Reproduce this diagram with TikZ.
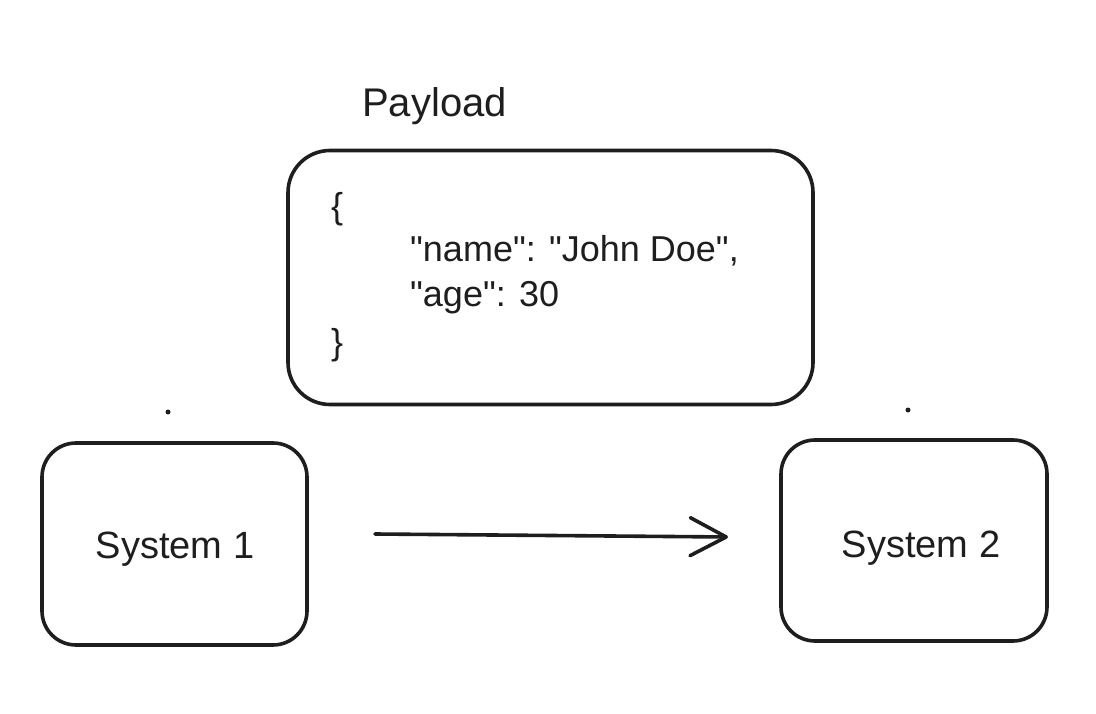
\documentclass[tikz,border=0pt]{standalone}
\usepackage{fontspec}
\setmainfont{Liberation Sans}
\newfontfamily\codefont{Liberation Sans}
\usetikzlibrary{arrows.meta}
\definecolor{ink}{HTML}{1E1E1E}
\tikzset{
  sketchbox/.style={draw=ink, line width=3.6pt, rounded corners=#1, inner sep=0pt},
  label/.style={text=ink, font=\fontsize{38}{45}\selectfont, inner sep=0pt},
  code/.style={text=ink, font=\codefont\fontsize{36}{45}\selectfont, inner sep=0pt, anchor=base west},
  dotmark/.style={circle, fill=ink, inner sep=0pt, minimum size=5pt},
}
\begin{document}
\begin{tikzpicture}[x=1pt,y=-1pt]
\useasboundingbox (0,0) rectangle (1096,714);
% payload
\node[label, font=\fontsize{40}{45}\selectfont, anchor=base west] (title) at (362,117) {Payload};
\node[sketchbox=42pt, minimum width=525pt, minimum height=254pt] (payload) at (550.5,277.5) {};
\node[code] (j1) at (331,219) {\{};
\node[code] (j2) at (410,262) {"name": "John Doe",};
\node[code] (j3) at (410,307) {"age": 30};
\node[code] (j4) at (331,355) {\}};
% systems
\node[sketchbox=34pt, minimum width=265pt, minimum height=202pt] (s1) at (174.5,544) {};
\node[sketchbox=34pt, minimum width=266pt, minimum height=201pt] (s2) at (914,540.5) {};
\node[label, anchor=base] (t1) at (175,558) {System 1};
\node[label, anchor=base] (t2) at (921,557) {System 2};
% dots
\node[dotmark] (d1) at (168,412) {};
\node[dotmark] (d2) at (908,410) {};
% arrow
\coordinate (a1) at (375,534);
\coordinate (a2) at (728,537);
\draw[draw=ink, line width=3.6pt, line cap=round, -{Straight Barb[length=36pt,width=38pt,round]}] (a1) -- (a2);
\end{tikzpicture}
\end{document}
